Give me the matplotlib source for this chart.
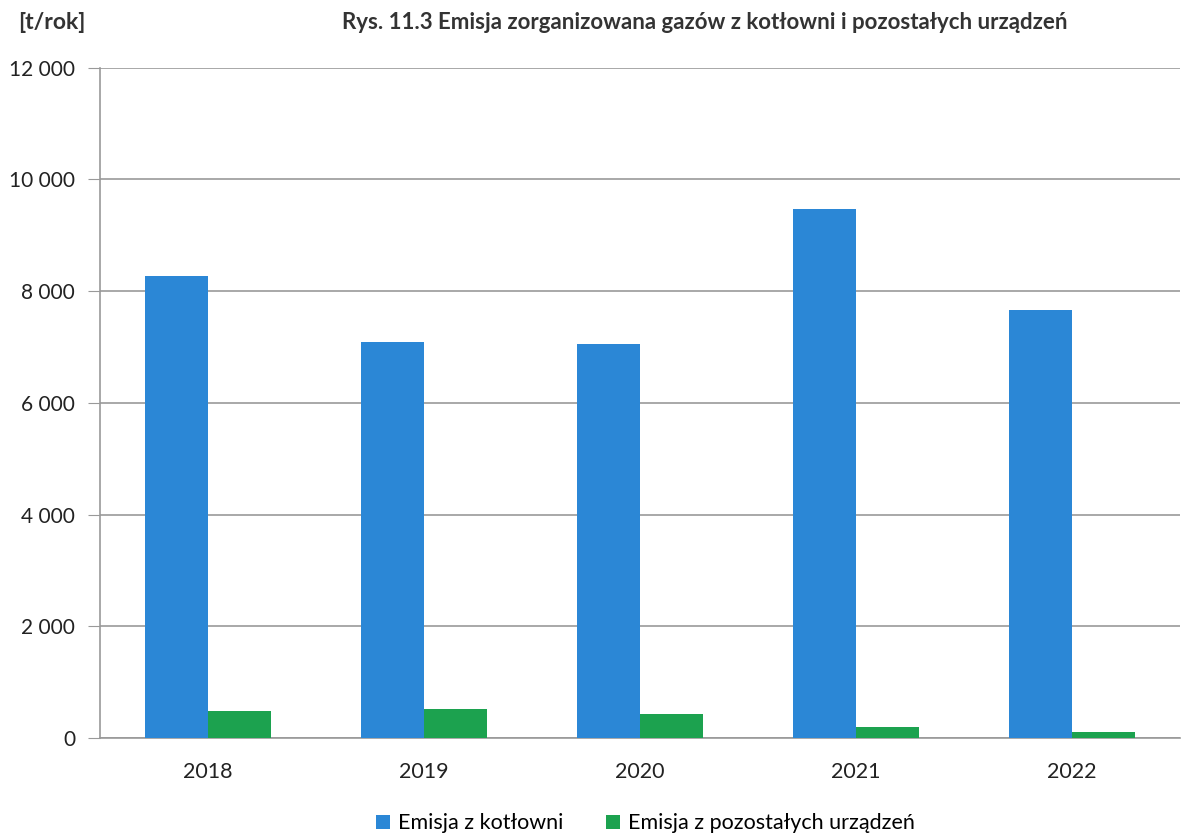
import matplotlib.pyplot as plt
import numpy as np

plt.rcParams["font.family"] = ["Lato", "DejaVu Sans"]

years = ["2018", "2019", "2020", "2021", "2022"]
kotlownia = [8270, 7090, 7050, 9480, 7660]
pozostale = [480, 530, 430, 200, 110]
yticks = [0, 2000, 4000, 6000, 8000, 10000, 12000]
ytick_labels = ["0", "2 000", "4 000", "6 000", "8 000", "10 000", "12 000"]

fig = plt.figure(figsize=(11.92, 8.36), dpi=100)
ax = fig.add_axes([0.084, 0.117, 0.906, 0.802])

x = np.arange(len(years))
w = 0.29
ax.bar(x - w / 2, kotlownia, width=w, color="#2B87D6", label="Emisja z kotłowni", zorder=3)
ax.bar(x + w / 2, pozostale, width=w, color="#1CA24F", label="Emisja z pozostałych urządzeń", zorder=3)

ax.set_xlim(-0.5, len(years) - 0.5)
ax.set_ylim(0, 12000)
ax.set_yticks(yticks)
ax.set_yticklabels(ytick_labels, fontsize=15, color="#222222")
ax.set_xticks(x)
ax.set_xticklabels(years, fontsize=15.5, color="#222222")
ax.tick_params(axis="y", length=9, color="#999999", pad=9)
ax.tick_params(axis="x", length=0, pad=17)
ax.grid(axis="y", color="#9a9a9a", linewidth=1.2, zorder=0)

for s in ["top", "right"]:
    ax.spines[s].set_visible(False)
ax.spines["left"].set_color("#999999")
ax.spines["bottom"].set_color("#999999")
ax.spines["left"].set_linewidth(1.2)
ax.spines["bottom"].set_linewidth(1.2)

fig.text(0.015, 0.973, "[t/rok]", fontsize=16.5, fontweight="bold", color="#333333", va="center")
fig.text(0.591, 0.973, "Rys. 11.3 Emisja zorganizowana gazów z kotłowni i pozostałych urządzeń",
         fontsize=16, fontweight="bold", color="#333333", ha="center", va="center")

ax.legend(loc="center", bbox_to_anchor=(0.505, -0.127), ncol=2, frameon=False,
          fontsize=15.5, handlelength=0.65, handleheight=0.65, handletextpad=0.35, columnspacing=2.0)

fig.savefig("out.png", dpi=100)
